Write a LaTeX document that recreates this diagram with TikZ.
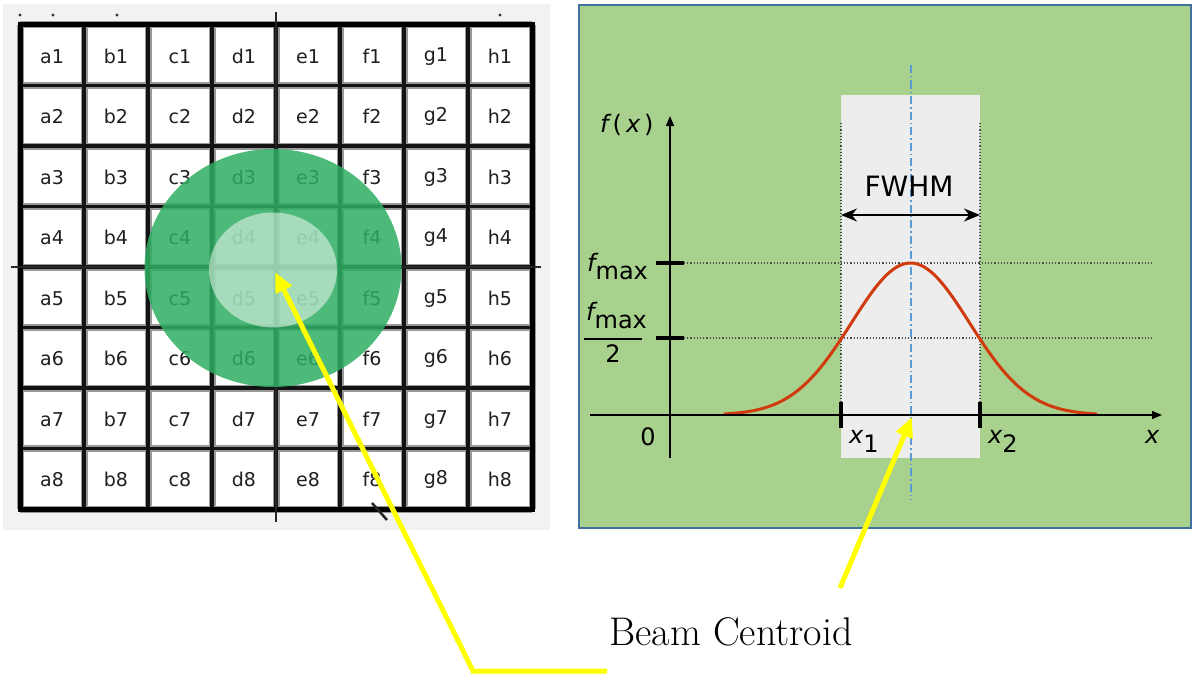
\documentclass[tikz,border=0pt]{standalone}
\usepackage{fontspec}
\newfontfamily\dv{DejaVu Sans}
\usetikzlibrary{arrows.meta,shapes.geometric}
\definecolor{panelgreen}{HTML}{A9D18E}
\definecolor{panelborder}{HTML}{41719C}
\definecolor{beamgreen}{HTML}{2EAE62}
\definecolor{curvered}{HTML}{D03A0C}
\definecolor{axisblue}{HTML}{5B9BD5}
\definecolor{leftbg}{HTML}{F2F2F2}
\definecolor{fwhmgray}{HTML}{EDEDED}
\definecolor{yel}{HTML}{FFFF00}
\tikzset{
  gridhalo/.style={draw=black!40, line width=7pt},
  gridline/.style={draw=black!92, line width=3.5pt},
  cell/.style={font=\dv\fontsize{19}{19}\selectfont, text=black!88, inner sep=0pt},
  yarrow/.style={draw=yel, line width=5pt, -{Triangle[length=20pt,width=17pt]}},
  dotline/.style={draw=black!70, line width=1.2pt, dotted},
  centreline/.style={draw=axisblue, line width=1.5pt, dash pattern=on 8pt off 3pt on 1.5pt off 3pt},
  axisarrow/.style={draw=black, line width=1.5pt, -{Triangle[length=10pt,width=8pt]}},
  tickline/.style={draw=black, line width=3.5pt},
  fwhmarrow/.style={draw=black, line width=2.2pt, {Stealth[length=16pt,width=13pt]}-{Stealth[length=16pt,width=13pt]}},
  lbl/.style={font=\dv\fontsize{24}{24}\selectfont, inner sep=0pt},
}
\begin{document}
\begin{tikzpicture}[x=1pt,y=-1pt]
\useasboundingbox (0,0) rectangle (1194,677);
% ---------- left panel ----------
\node[fill=leftbg, minimum width=547pt, minimum height=526pt, inner sep=0pt, anchor=north west] (leftpanel) at (3,4) {};
\fill[white] (20,25) rectangle (532,509);
\foreach \i in {0,...,8}{
  \draw[gridhalo] ({20+64*\i},25) -- ({20+64*\i},509);
  \draw[gridhalo] (20,{25+60.5*\i}) -- (532,{25+60.5*\i});
}
\foreach \i in {0,...,8}{
  \draw[gridline] ({20+64*\i},25) -- ({20+64*\i},509);
  \draw[gridline] (20,{25+60.5*\i}) -- (532,{25+60.5*\i});
}
\draw[black, line width=5pt] (20,25) rectangle (532,509);
\draw[black!85, line width=1.8pt] (276,12) -- (276,522);
\draw[black!85, line width=1.8pt] (11,267) -- (541,267);
\foreach \px in {20,53,117,500}{\fill[black!80] (\px,15) circle (1.6pt);}
\draw[black!85, line width=2.5pt] (372,503) -- (387,520);
\foreach \c [count=\ci from 0] in {a,b,c,d,e,f,g,h}{
  \foreach \r in {1,...,8}{
    \node[cell] (\c\r) at ({52+64*\ci},{26+60.5*(\r-0.5)}) {\c\r};
  }
}
\node[ellipse, fill=beamgreen, fill opacity=0.85, minimum width=257pt, minimum height=238pt, inner sep=0pt] (beam) at (273,268) {};
\node[ellipse, fill=white, fill opacity=0.5, minimum width=128pt, minimum height=115pt, inner sep=0pt] (core) at (273,270) {};
\coordinate (centroidL) at (275,272);
% ---------- right panel ----------
\node[draw=panelborder, line width=2pt, fill=panelgreen, minimum width=612pt, minimum height=523pt, inner sep=0pt, anchor=north west] (plotpanel) at (578,4) {};
\node[fill=fwhmgray, minimum width=139pt, minimum height=363pt, inner sep=0pt, anchor=north west] (fwhmbox) at (841,95) {};
\coordinate (origin) at (670,415);
\coordinate (x1) at (841,415);
\coordinate (x2) at (980,415);
\coordinate (centroidR) at (912,417);
\coordinate (fwl) at (841,215);
\coordinate (fwr) at (980,215);
\draw[dotline] (841,123) -- (x1);
\draw[dotline] (980,123) -- (x2);
\draw[dotline] (684,263) -- (1152,263);
\draw[dotline] (684,338) -- (1152,338);
\draw[centreline] (911,65) -- (911,500);
\draw[curvered, line width=3pt, line cap=round] plot[domain=-3.15:3.15, samples=120] ({910.5+59*\x},{415-152*exp(-\x*\x/2)});
\draw[axisarrow] (590,415) -- (1162,415);
\draw[axisarrow] (670,458) -- (670,116);
\draw[tickline] (656,263) -- (684,263);
\draw[tickline] (656,338) -- (684,338);
\draw[tickline] (841,402) -- (841,428);
\draw[tickline] (980,402) -- (980,428);
\draw[fwhmarrow] (fwl) -- (fwr);
\node[lbl, font=\dv\fontsize{28}{28}\selectfont] (fwhm) at (909,186) {FWHM};
\node[lbl, anchor=base west] (fx) at (600,132) {{\itshape f}\,(\,{\itshape x}\,)};
\node[lbl, anchor=base west] (fmax) at (587,271) {{\itshape f}\raisebox{-8pt}{max}};
\node[lbl, anchor=base west] (fmaxnum) at (586,320) {{\itshape f}\raisebox{-8pt}{max}};
\draw[black, line width=1.8pt] (584,339) -- (642,339);
\node[lbl] (two) at (613,354) {2};
\node[lbl, anchor=base] (zero) at (648,445) {0};
\node[lbl, anchor=base west] (x1lbl) at (849,443) {{\itshape x}\raisebox{-9pt}{1}};
\node[lbl, anchor=base west] (x2lbl) at (988,443) {{\itshape x}\raisebox{-9pt}{2}};
\node[lbl, anchor=base west] (xlbl) at (1145,443) {{\itshape x}};
% ---------- labels and pointers ----------
\node[font=\fontsize{40}{40}\selectfont, inner sep=0pt, anchor=base] (beamlabel) at (731,645) {Beam Centroid};
\coordinate (lstart) at (607,671);
\coordinate (lcorner) at (473,671);
\coordinate (rstart) at (840,588);
\draw[yarrow] (lstart) -- (lcorner) -- (centroidL);
\draw[yarrow] (rstart) -- (centroidR);
\end{tikzpicture}
\end{document}
